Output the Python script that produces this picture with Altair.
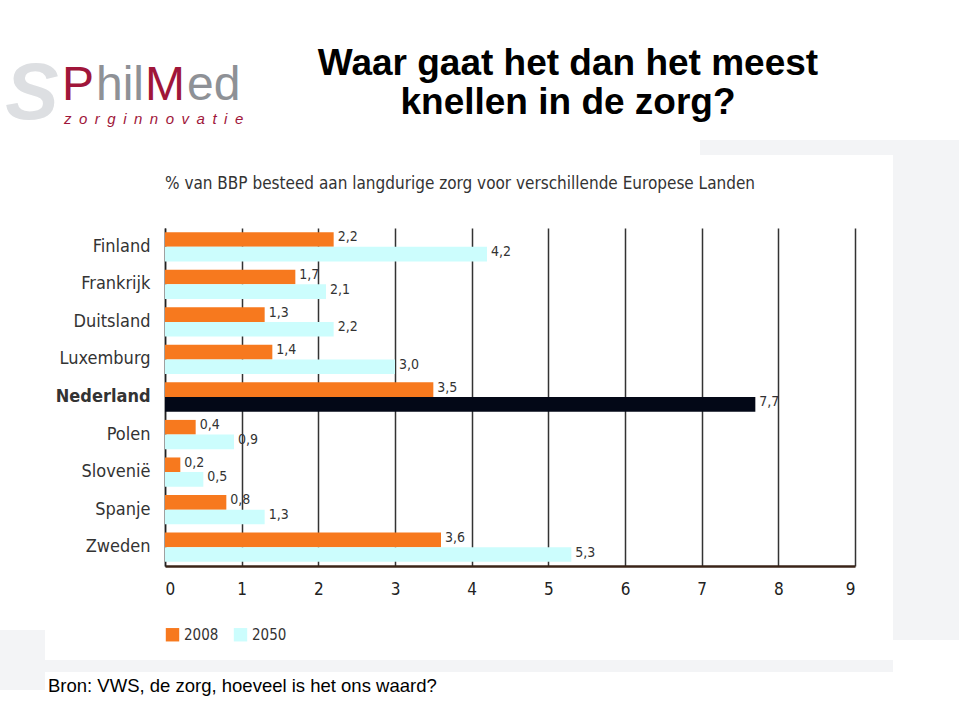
import altair as alt
import pandas as pd

# ---- data ----
landen = ["Finland", "Frankrijk", "Duitsland", "Luxemburg", "Nederland",
          "Polen", "Slovenië", "Spanje", "Zweden"]
waarden_2008 = [2.2, 1.7, 1.3, 1.4, 3.5, 0.4, 0.2, 0.8, 3.6]
waarden_2050 = [4.2, 2.1, 2.2, 3.0, 7.7, 0.9, 0.5, 1.3, 5.3]
jaren = ["2008", "2050"]
x_ticks = [0, 1, 2, 3, 4, 5, 6, 7, 8, 9]

titel_1 = "Waar gaat het dan het meest"
titel_2 = "knellen in de zorg?"
ondertitel = "% van BBP besteed aan langdurige zorg voor verschillende Europese Landen"
bron = "Bron: VWS, de zorg, hoeveel is het ons waard?"
logo_delen = ["P", "hil", "M", "ed"]
logo_sub = "zorginnovatie"

rows = []
for land, a, b in zip(landen, waarden_2008, waarden_2050):
    rows.append({"land": land, "jaar": "2008", "waarde": a, "kleur": "2008"})
    rows.append({"land": land, "jaar": "2050", "waarde": b,
                 "kleur": "NL" if land == "Nederland" else "2050"})
df = pd.DataFrame(rows)

ORANJE = "#F7791E"
CYAAN = "#CCFDFD"
ZWART = "#030817"
FONT = "DejaVu Sans Condensed"
ROOD = "#A0163A"
LOGOGRIJS = "#8E9196"

# plot area geometry
L, T, W, H = 165, 228, 690, 338
one = pd.DataFrame({"d": [0]})


def txt(text, x, y, size, **kw):
    return alt.Chart(one).mark_text(text=text, fontSize=size, **kw).encode(
        x=alt.value(x - L), y=alt.value(y - T))


def box(x1, y1, x2, y2, color):
    return alt.Chart(one).mark_rect(color=color).encode(
        x=alt.value(x1 - L), x2=alt.value(x2 - L),
        y=alt.value(y1 - T), y2=alt.value(y2 - T))


GRIJS = "#F3F4F6"
achtergrond = [
    box(893, 140, 959, 640, GRIJS),
    box(700, 140, 893, 155, GRIJS),
    box(0, 660, 893, 672, GRIJS),
    box(0, 630, 45, 690, GRIJS),
]

y_enc = alt.Y("land:N", sort=landen, title=None,
              scale=alt.Scale(paddingInner=0.22, paddingOuter=0.11),
              axis=alt.Axis(labelFont=FONT, labelFontSize=18, labelColor="#333333",
                            labelFontWeight=alt.expr("datum.value == 'Nederland' ? 'bold' : 'normal'"),
                            labelPadding=15, ticks=False, domain=True,
                            domainColor="#222222", domainWidth=1.5))
yoff = alt.YOffset("jaar:N", sort=jaren, scale=alt.Scale(paddingInner=0, paddingOuter=0))
x_enc = alt.X("waarde:Q", title=None,
              scale=alt.Scale(domain=[0, 9], nice=False),
              axis=alt.Axis(values=x_ticks, format="d", grid=True, gridColor="#333333",
                            gridWidth=1.5, ticks=False, domainColor="#3A2418", domainWidth=2.5,
                            labelFont=FONT, labelFontSize=17, labelColor="#222222",
                            labelPadding=15))

bars = alt.Chart(df).mark_bar().encode(
    x=x_enc, y=y_enc, yOffset=yoff,
    color=alt.Color("kleur:N",
                    scale=alt.Scale(domain=["2008", "2050", "NL"], range=[ORANJE, CYAAN, ZWART]),
                    legend=alt.Legend(values=["2008", "2050"], title=None, orient="none",
                                      legendX=0, legendY=399, direction="horizontal",
                                      symbolType="square", symbolSize=180, symbolStrokeWidth=0,
                                      labelFont=FONT, labelFontSize=15, labelColor="#333333",
                                      columnPadding=14, labelOffset=4)),
)

labels = alt.Chart(df).transform_calculate(
    label="replace(format(datum.waarde, '.1f'), '.', ',')"
).mark_text(align="left", baseline="middle", dx=4, dy=-2, font=FONT, fontSize=14,
            color="#333333").encode(
    x="waarde:Q", y=alt.Y("land:N", sort=landen), yOffset=yoff, text="label:N")

logo_x = [62, 96, 145, 187]
logo_kleur = [ROOD, LOGOGRIJS, ROOD, LOGOGRIJS]
logo = [txt("S", 32, 95, 80, font="Liberation Sans", fontStyle="italic", fontWeight="bold",
            color="#DDDFE2", align="center", baseline="middle")]
for deel, lx, kl in zip(logo_delen, logo_x, logo_kleur):
    logo.append(txt(deel, lx, 100, 48, font="Liberation Sans", color=kl, align="left",
                    baseline="alphabetic"))
logo.append(txt("\u2002".join(logo_sub), 64, 124, 15, font="Liberation Sans",
                fontStyle="italic", color=ROOD, align="left", baseline="alphabetic"))

teksten = [
    txt(titel_1, 568, 64, 37, font="Liberation Sans", fontWeight="bold", color="#000000",
        align="center", baseline="middle"),
    txt(titel_2, 568, 103, 37, font="Liberation Sans", fontWeight="bold", color="#000000",
        align="center", baseline="middle"),
    txt(ondertitel, 165, 184, 17, font=FONT, color="#333333", align="left", baseline="middle"),
    txt(bron, 48, 686, 18.5, font="Liberation Sans", color="#000000", align="left",
        baseline="middle"),
]

chart = alt.layer(*achtergrond, bars, labels, *logo, *teksten).properties(
    width=W, height=H,
    padding={"left": L, "top": T, "right": 959 - L - W, "bottom": 720 - T - H},
    autosize=alt.AutoSizeParams(type="none"),
    background="white",
).configure_view(stroke=None)

chart.save("out.html", embed_options={"renderer": "svg", "actions": False})
